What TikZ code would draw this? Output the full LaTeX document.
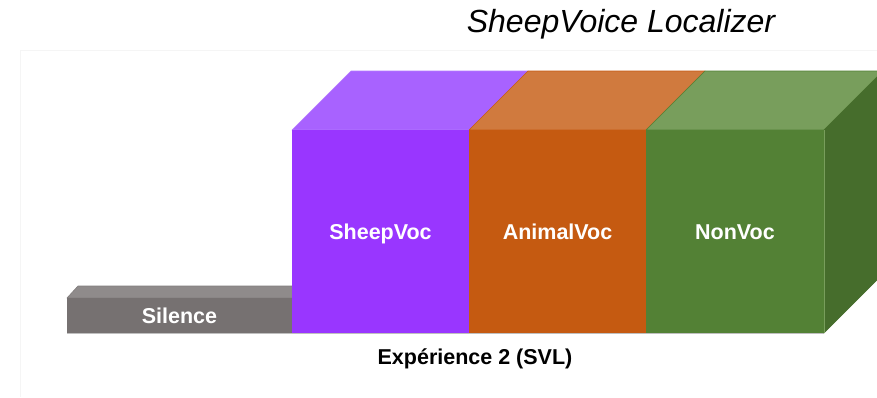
\documentclass[tikz,border=0pt]{standalone}
\usepackage{fontspec}
\setmainfont{Liberation Sans}
\definecolor{purpF}{HTML}{9936FF}
\definecolor{purpT}{HTML}{A862FF}
\definecolor{oranF}{HTML}{C55A11}
\definecolor{oranT}{HTML}{D07A3E}
\definecolor{greeF}{HTML}{538135}
\definecolor{greeT}{HTML}{789E5C}
\definecolor{greeR}{HTML}{466D2C}
\definecolor{greyF}{HTML}{767171}
\definecolor{greyT}{HTML}{8F8B8B}
\tikzset{
  lbl/.style={text=white, font=\bfseries\fontsize{21.5}{25}\selectfont, inner sep=0pt, anchor=base},
  face/.style={line width=0.6pt, line join=round},
}
\begin{document}
\begin{tikzpicture}[x=1pt,y=-1pt]
\useasboundingbox (0,0) rectangle (877,397);
\clip (0,0) rectangle (877,397);
\fill[white] (0,0) rectangle (877,397);
% faint background panel
\draw[black!4, line width=0.8pt] (20,397) -- (20,50) -- (877,50);
% floor line
\draw[black!25, line width=1pt] (67,333.5) -- (824,333.5);
% Silence bar
\filldraw[face, fill=greyT, draw=greyT!90!black] (67,298) -- (78,286) -- (303,286) -- (292,298) -- cycle;
\fill[greyF] (67,298) rectangle (292,333);
% top faces
\filldraw[face, fill=purpT, draw=purpT!85!white] (292,130) -- (351,71) -- (528,71) -- (469,130) -- cycle;
\filldraw[face, fill=oranT, draw=oranF] (469,130) -- (528,71) -- (705,71) -- (646,130) -- cycle;
\filldraw[face, fill=greeT, draw=greeF] (646,130) -- (705,71) -- (883,71) -- (824,130) -- cycle;
% right face
\filldraw[face, fill=greeR, draw=greeR] (824,130) -- (883,71) -- (883,274) -- (824,333) -- cycle;
% front faces
\fill[purpF] (292,130) rectangle (469,333);
\fill[oranF] (469,130) rectangle (646,333);
\fill[greeF] (646,130) rectangle (824,333);
\draw[greeT, line width=0.6pt] (824,130) -- (824,333);
% labels
\node[lbl] (sil) at (179.5,323) {Silence};
\node[lbl] (sv) at (380.5,239.5) {SheepVoc};
\node[lbl] (av) at (557.5,239.5) {AnimalVoc};
\node[lbl] (nv) at (735,239.5) {NonVoc};
\node[font=\bfseries\fontsize{21.5}{25}\selectfont, inner sep=0pt, anchor=base] (exp) at (475,364) {Expérience 2 (SVL)};
\node[font=\itshape\fontsize{32}{37}\selectfont, inner sep=0pt, anchor=base] (title) at (621,32) {SheepVoice Localizer};
\end{tikzpicture}
\end{document}
